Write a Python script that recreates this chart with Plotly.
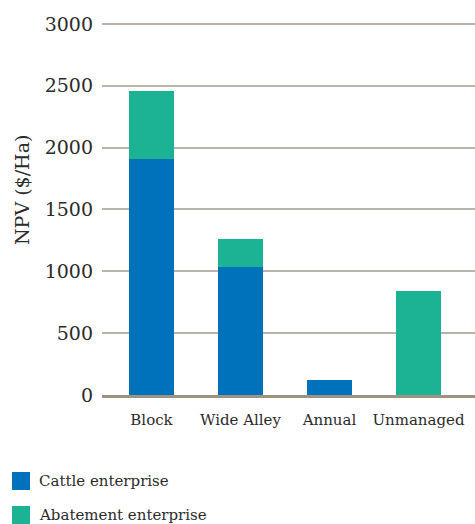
import plotly.graph_objects as go

categories = ["Block", "Wide Alley", "Annual", "Unmanaged"]
cattle = [1905, 1035, 120, 0]
abatement = [555, 225, 0, 840]
series_names = ["Cattle enterprise", "Abatement enterprise"]
colors = ["#0071bb", "#1cb294"]
y_ticks = [0, 500, 1000, 1500, 2000, 2500, 3000]

FONT = "DejaVu Serif"
TXT = "#2b2b2b"

PL, PT, PB = 102, 22, 129
PW, PH = 475 - PL, 524 - PT - PB

fig = go.Figure()
for name, vals, col in zip(series_names, [cattle, abatement], colors):
    fig.add_trace(go.Bar(x=categories, y=vals, name=name, marker_color=col,
                         marker_line_width=0, showlegend=False))

# custom legend (large square swatches)
for i, (name, col) in enumerate(zip(series_names, colors)):
    yc = 524 - 481 - i * 34  # pixel from bottom of figure
    fig.add_shape(type="rect", xref="paper", yref="paper",
                  x0=(12 - PL) / PW, x1=(30 - PL) / PW,
                  y0=(yc - 9 - PB) / PH, y1=(yc + 9 - PB) / PH,
                  fillcolor=col, line_width=0)
    fig.add_annotation(xref="paper", yref="paper", x=(37 - PL) / PW,
                       y=(yc - PB) / PH, text=name, showarrow=False,
                       xanchor="left", yanchor="middle",
                       font=dict(family=FONT, size=15, color=TXT))

# y-axis title
fig.add_annotation(xref="paper", yref="paper", x=(22 - PL) / PW,
                   y=(524 - 190 - PB) / PH, text="NPV ($/Ha)", textangle=-90,
                   showarrow=False, xanchor="center", yanchor="middle",
                   font=dict(family=FONT, size=19, color=TXT))

fig.update_layout(
    width=475, height=524,
    margin=dict(l=PL, r=0, t=PT, b=PB),
    paper_bgcolor="white", plot_bgcolor="white",
    barmode="stack", bargap=0.495,
    font=dict(family=FONT, color=TXT),
)
fig.update_xaxes(range=[-0.556, 3.635], showgrid=False, showline=True,
                 linecolor="#9e9383", linewidth=3, ticks="",
                 ticklabelstandoff=9,
                 tickfont=dict(family=FONT, size=15, color=TXT))
fig.update_yaxes(range=[0, 3016], tickvals=y_ticks, showgrid=True,
                 gridcolor="#b9b3a9", gridwidth=1.5, zeroline=False,
                 showline=False, ticks="",
                 ticklabelstandoff=8,
                 tickfont=dict(family=FONT, size=19, color=TXT))

fig.write_html("out.html")
